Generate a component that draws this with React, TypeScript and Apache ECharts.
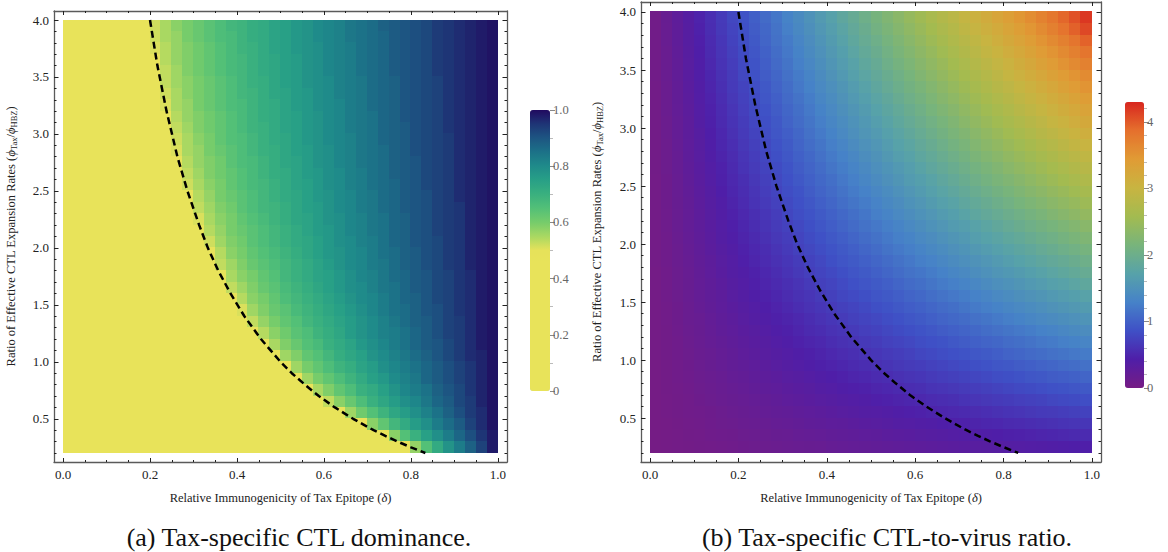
import React, { useEffect, useRef } from "react";
import * as echarts from "echarts";

const FONT = "Liberation Serif, Times New Roman, serif";

// Sampled grid: δ column centres (left→right) and ratio row centres (top→bottom)
const deltaCenters = [
  0.0125, 0.0375, 0.0625, 0.0875, 0.1125, 0.1375, 0.1625, 0.1875, 0.2125, 0.2375,
  0.2625, 0.2875, 0.3125, 0.3375, 0.3625, 0.3875, 0.4125, 0.4375, 0.4625, 0.4875,
  0.5125, 0.5375, 0.5625, 0.5875, 0.6125, 0.6375, 0.6625, 0.6875, 0.7125, 0.7375,
  0.7625, 0.7875, 0.8125, 0.8375, 0.8625, 0.8875, 0.9125, 0.9375, 0.9625, 0.9875,
];
const ratioCenters = [
  3.95, 3.85, 3.75, 3.65, 3.55, 3.45, 3.35, 3.25, 3.15, 3.05, 2.95, 2.85, 2.75, 2.65, 2.55, 2.45, 2.35, 2.25, 2.15,
  2.05, 1.95, 1.85, 1.75, 1.65, 1.55, 1.45, 1.35, 1.25, 1.15, 1.05, 0.95, 0.85, 0.75, 0.65, 0.55, 0.45, 0.35, 0.25,
];

// (a) Tax-specific CTL dominance, one row per ratio centre
const dominanceRows = [
  [0, 0, 0, 0, 0, 0, 0, 0, 0.52, 0.55, 0.58, 0.60, 0.62, 0.64, 0.66, 0.68, 0.69, 0.71, 0.72, 0.74, 0.75, 0.77, 0.78, 0.80, 0.81, 0.82, 0.84, 0.85, 0.86, 0.88, 0.89, 0.90, 0.91, 0.92, 0.94, 0.95, 0.96, 0.97, 0.98, 0.99],
  [0, 0, 0, 0, 0, 0, 0, 0, 0.52, 0.55, 0.57, 0.60, 0.62, 0.64, 0.66, 0.67, 0.69, 0.71, 0.72, 0.74, 0.75, 0.77, 0.78, 0.80, 0.81, 0.82, 0.84, 0.85, 0.86, 0.87, 0.89, 0.90, 0.91, 0.92, 0.94, 0.95, 0.96, 0.97, 0.98, 0.99],
  [0, 0, 0, 0, 0, 0, 0, 0, 0.51, 0.54, 0.57, 0.59, 0.61, 0.63, 0.65, 0.67, 0.69, 0.70, 0.72, 0.74, 0.75, 0.77, 0.78, 0.79, 0.81, 0.82, 0.83, 0.85, 0.86, 0.87, 0.89, 0.90, 0.91, 0.92, 0.94, 0.95, 0.96, 0.97, 0.98, 0.99],
  [0, 0, 0, 0, 0, 0, 0, 0, 0, 0.54, 0.57, 0.59, 0.61, 0.63, 0.65, 0.67, 0.68, 0.70, 0.72, 0.73, 0.75, 0.76, 0.78, 0.79, 0.81, 0.82, 0.83, 0.85, 0.86, 0.87, 0.89, 0.90, 0.91, 0.92, 0.94, 0.95, 0.96, 0.97, 0.98, 0.99],
  [0, 0, 0, 0, 0, 0, 0, 0, 0, 0.53, 0.56, 0.59, 0.61, 0.63, 0.65, 0.67, 0.68, 0.70, 0.72, 0.73, 0.75, 0.76, 0.78, 0.79, 0.81, 0.82, 0.83, 0.85, 0.86, 0.87, 0.89, 0.90, 0.91, 0.92, 0.94, 0.95, 0.96, 0.97, 0.98, 0.99],
  [0, 0, 0, 0, 0, 0, 0, 0, 0, 0.53, 0.56, 0.58, 0.60, 0.62, 0.64, 0.66, 0.68, 0.70, 0.71, 0.73, 0.75, 0.76, 0.78, 0.79, 0.80, 0.82, 0.83, 0.84, 0.86, 0.87, 0.88, 0.90, 0.91, 0.92, 0.93, 0.95, 0.96, 0.97, 0.98, 0.99],
  [0, 0, 0, 0, 0, 0, 0, 0, 0, 0.52, 0.55, 0.58, 0.60, 0.62, 0.64, 0.66, 0.68, 0.69, 0.71, 0.73, 0.74, 0.76, 0.77, 0.79, 0.80, 0.82, 0.83, 0.84, 0.86, 0.87, 0.88, 0.90, 0.91, 0.92, 0.93, 0.95, 0.96, 0.97, 0.98, 0.99],
  [0, 0, 0, 0, 0, 0, 0, 0, 0, 0.51, 0.55, 0.57, 0.60, 0.62, 0.64, 0.66, 0.67, 0.69, 0.71, 0.72, 0.74, 0.76, 0.77, 0.79, 0.80, 0.81, 0.83, 0.84, 0.86, 0.87, 0.88, 0.90, 0.91, 0.92, 0.93, 0.95, 0.96, 0.97, 0.98, 0.99],
  [0, 0, 0, 0, 0, 0, 0, 0, 0, 0, 0.54, 0.57, 0.59, 0.61, 0.63, 0.65, 0.67, 0.69, 0.71, 0.72, 0.74, 0.75, 0.77, 0.78, 0.80, 0.81, 0.83, 0.84, 0.85, 0.87, 0.88, 0.90, 0.91, 0.92, 0.93, 0.95, 0.96, 0.97, 0.98, 0.99],
  [0, 0, 0, 0, 0, 0, 0, 0, 0, 0, 0.53, 0.56, 0.59, 0.61, 0.63, 0.65, 0.67, 0.69, 0.70, 0.72, 0.74, 0.75, 0.77, 0.78, 0.80, 0.81, 0.83, 0.84, 0.85, 0.87, 0.88, 0.89, 0.91, 0.92, 0.93, 0.95, 0.96, 0.97, 0.98, 0.99],
  [0, 0, 0, 0, 0, 0, 0, 0, 0, 0, 0.52, 0.55, 0.58, 0.60, 0.63, 0.65, 0.66, 0.68, 0.70, 0.72, 0.73, 0.75, 0.77, 0.78, 0.80, 0.81, 0.82, 0.84, 0.85, 0.87, 0.88, 0.89, 0.91, 0.92, 0.93, 0.94, 0.96, 0.97, 0.98, 0.99],
  [0, 0, 0, 0, 0, 0, 0, 0, 0, 0, 0.51, 0.55, 0.57, 0.60, 0.62, 0.64, 0.66, 0.68, 0.70, 0.71, 0.73, 0.75, 0.76, 0.78, 0.79, 0.81, 0.82, 0.84, 0.85, 0.86, 0.88, 0.89, 0.91, 0.92, 0.93, 0.94, 0.96, 0.97, 0.98, 0.99],
  [0, 0, 0, 0, 0, 0, 0, 0, 0, 0, 0, 0.54, 0.57, 0.59, 0.61, 0.64, 0.66, 0.67, 0.69, 0.71, 0.73, 0.74, 0.76, 0.78, 0.79, 0.81, 0.82, 0.84, 0.85, 0.86, 0.88, 0.89, 0.90, 0.92, 0.93, 0.94, 0.96, 0.97, 0.98, 0.99],
  [0, 0, 0, 0, 0, 0, 0, 0, 0, 0, 0, 0.53, 0.56, 0.59, 0.61, 0.63, 0.65, 0.67, 0.69, 0.71, 0.72, 0.74, 0.76, 0.77, 0.79, 0.80, 0.82, 0.83, 0.85, 0.86, 0.88, 0.89, 0.90, 0.92, 0.93, 0.94, 0.96, 0.97, 0.98, 0.99],
  [0, 0, 0, 0, 0, 0, 0, 0, 0, 0, 0, 0.52, 0.55, 0.58, 0.60, 0.63, 0.65, 0.67, 0.68, 0.70, 0.72, 0.74, 0.75, 0.77, 0.79, 0.80, 0.82, 0.83, 0.85, 0.86, 0.87, 0.89, 0.90, 0.92, 0.93, 0.94, 0.96, 0.97, 0.98, 0.99],
  [0, 0, 0, 0, 0, 0, 0, 0, 0, 0, 0, 0, 0.54, 0.57, 0.60, 0.62, 0.64, 0.66, 0.68, 0.70, 0.72, 0.73, 0.75, 0.77, 0.78, 0.80, 0.81, 0.83, 0.84, 0.86, 0.87, 0.89, 0.90, 0.91, 0.93, 0.94, 0.96, 0.97, 0.98, 0.99],
  [0, 0, 0, 0, 0, 0, 0, 0, 0, 0, 0, 0, 0.53, 0.56, 0.59, 0.61, 0.64, 0.66, 0.68, 0.69, 0.71, 0.73, 0.75, 0.76, 0.78, 0.80, 0.81, 0.83, 0.84, 0.86, 0.87, 0.89, 0.90, 0.91, 0.93, 0.94, 0.95, 0.97, 0.98, 0.99],
  [0, 0, 0, 0, 0, 0, 0, 0, 0, 0, 0, 0, 0.51, 0.55, 0.58, 0.60, 0.63, 0.65, 0.67, 0.69, 0.71, 0.73, 0.74, 0.76, 0.78, 0.79, 0.81, 0.82, 0.84, 0.85, 0.87, 0.88, 0.90, 0.91, 0.93, 0.94, 0.95, 0.97, 0.98, 0.99],
  [0, 0, 0, 0, 0, 0, 0, 0, 0, 0, 0, 0, 0, 0.54, 0.57, 0.60, 0.62, 0.64, 0.66, 0.68, 0.70, 0.72, 0.74, 0.76, 0.77, 0.79, 0.81, 0.82, 0.84, 0.85, 0.87, 0.88, 0.90, 0.91, 0.93, 0.94, 0.95, 0.97, 0.98, 0.99],
  [0, 0, 0, 0, 0, 0, 0, 0, 0, 0, 0, 0, 0, 0.52, 0.56, 0.59, 0.61, 0.64, 0.66, 0.68, 0.70, 0.72, 0.73, 0.75, 0.77, 0.79, 0.80, 0.82, 0.83, 0.85, 0.87, 0.88, 0.90, 0.91, 0.92, 0.94, 0.95, 0.97, 0.98, 0.99],
  [0, 0, 0, 0, 0, 0, 0, 0, 0, 0, 0, 0, 0, 0, 0.54, 0.58, 0.60, 0.63, 0.65, 0.67, 0.69, 0.71, 0.73, 0.75, 0.77, 0.78, 0.80, 0.81, 0.83, 0.85, 0.86, 0.88, 0.89, 0.91, 0.92, 0.94, 0.95, 0.97, 0.98, 0.99],
  [0, 0, 0, 0, 0, 0, 0, 0, 0, 0, 0, 0, 0, 0, 0.53, 0.56, 0.59, 0.62, 0.64, 0.66, 0.68, 0.70, 0.72, 0.74, 0.76, 0.78, 0.80, 0.81, 0.83, 0.84, 0.86, 0.88, 0.89, 0.91, 0.92, 0.94, 0.95, 0.97, 0.98, 0.99],
  [0, 0, 0, 0, 0, 0, 0, 0, 0, 0, 0, 0, 0, 0, 0, 0.55, 0.58, 0.60, 0.63, 0.65, 0.68, 0.70, 0.72, 0.74, 0.75, 0.77, 0.79, 0.81, 0.82, 0.84, 0.86, 0.87, 0.89, 0.90, 0.92, 0.93, 0.95, 0.96, 0.98, 0.99],
  [0, 0, 0, 0, 0, 0, 0, 0, 0, 0, 0, 0, 0, 0, 0, 0.53, 0.56, 0.59, 0.62, 0.64, 0.67, 0.69, 0.71, 0.73, 0.75, 0.77, 0.79, 0.80, 0.82, 0.84, 0.85, 0.87, 0.89, 0.90, 0.92, 0.93, 0.95, 0.96, 0.98, 0.99],
  [0, 0, 0, 0, 0, 0, 0, 0, 0, 0, 0, 0, 0, 0, 0, 0, 0.54, 0.58, 0.60, 0.63, 0.66, 0.68, 0.70, 0.72, 0.74, 0.76, 0.78, 0.80, 0.81, 0.83, 0.85, 0.87, 0.88, 0.90, 0.92, 0.93, 0.95, 0.96, 0.98, 0.99],
  [0, 0, 0, 0, 0, 0, 0, 0, 0, 0, 0, 0, 0, 0, 0, 0, 0.51, 0.56, 0.59, 0.62, 0.64, 0.67, 0.69, 0.71, 0.73, 0.75, 0.77, 0.79, 0.81, 0.83, 0.85, 0.86, 0.88, 0.90, 0.91, 0.93, 0.95, 0.96, 0.98, 0.99],
  [0, 0, 0, 0, 0, 0, 0, 0, 0, 0, 0, 0, 0, 0, 0, 0, 0, 0.53, 0.57, 0.60, 0.63, 0.65, 0.68, 0.70, 0.72, 0.74, 0.76, 0.78, 0.80, 0.82, 0.84, 0.86, 0.88, 0.89, 0.91, 0.93, 0.94, 0.96, 0.98, 0.99],
  [0, 0, 0, 0, 0, 0, 0, 0, 0, 0, 0, 0, 0, 0, 0, 0, 0, 0, 0.54, 0.58, 0.61, 0.64, 0.66, 0.69, 0.71, 0.73, 0.76, 0.78, 0.80, 0.82, 0.83, 0.85, 0.87, 0.89, 0.91, 0.93, 0.94, 0.96, 0.98, 0.99],
  [0, 0, 0, 0, 0, 0, 0, 0, 0, 0, 0, 0, 0, 0, 0, 0, 0, 0, 0, 0.55, 0.59, 0.62, 0.65, 0.67, 0.70, 0.72, 0.74, 0.77, 0.79, 0.81, 0.83, 0.85, 0.87, 0.89, 0.90, 0.92, 0.94, 0.96, 0.98, 0.99],
  [0, 0, 0, 0, 0, 0, 0, 0, 0, 0, 0, 0, 0, 0, 0, 0, 0, 0, 0, 0, 0.56, 0.59, 0.63, 0.65, 0.68, 0.71, 0.73, 0.75, 0.78, 0.80, 0.82, 0.84, 0.86, 0.88, 0.90, 0.92, 0.94, 0.96, 0.97, 0.99],
  [0, 0, 0, 0, 0, 0, 0, 0, 0, 0, 0, 0, 0, 0, 0, 0, 0, 0, 0, 0, 0, 0.56, 0.60, 0.63, 0.66, 0.69, 0.71, 0.74, 0.76, 0.79, 0.81, 0.83, 0.85, 0.87, 0.89, 0.91, 0.93, 0.95, 0.97, 0.99],
  [0, 0, 0, 0, 0, 0, 0, 0, 0, 0, 0, 0, 0, 0, 0, 0, 0, 0, 0, 0, 0, 0, 0.56, 0.60, 0.63, 0.66, 0.69, 0.72, 0.75, 0.77, 0.80, 0.82, 0.84, 0.87, 0.89, 0.91, 0.93, 0.95, 0.97, 0.99],
  [0, 0, 0, 0, 0, 0, 0, 0, 0, 0, 0, 0, 0, 0, 0, 0, 0, 0, 0, 0, 0, 0, 0, 0.55, 0.59, 0.63, 0.66, 0.70, 0.72, 0.75, 0.78, 0.81, 0.83, 0.85, 0.88, 0.90, 0.92, 0.95, 0.97, 0.99],
  [0, 0, 0, 0, 0, 0, 0, 0, 0, 0, 0, 0, 0, 0, 0, 0, 0, 0, 0, 0, 0, 0, 0, 0, 0.53, 0.58, 0.62, 0.66, 0.70, 0.73, 0.76, 0.79, 0.81, 0.84, 0.87, 0.89, 0.92, 0.94, 0.97, 0.99],
  [0, 0, 0, 0, 0, 0, 0, 0, 0, 0, 0, 0, 0, 0, 0, 0, 0, 0, 0, 0, 0, 0, 0, 0, 0, 0, 0.56, 0.61, 0.65, 0.69, 0.73, 0.76, 0.79, 0.82, 0.85, 0.88, 0.91, 0.94, 0.96, 0.99],
  [0, 0, 0, 0, 0, 0, 0, 0, 0, 0, 0, 0, 0, 0, 0, 0, 0, 0, 0, 0, 0, 0, 0, 0, 0, 0, 0, 0, 0.58, 0.63, 0.68, 0.72, 0.76, 0.79, 0.83, 0.86, 0.89, 0.93, 0.96, 0.99],
  [0, 0, 0, 0, 0, 0, 0, 0, 0, 0, 0, 0, 0, 0, 0, 0, 0, 0, 0, 0, 0, 0, 0, 0, 0, 0, 0, 0, 0, 0, 0.58, 0.65, 0.70, 0.75, 0.79, 0.83, 0.87, 0.91, 0.95, 0.98],
  [0, 0, 0, 0, 0, 0, 0, 0, 0, 0, 0, 0, 0, 0, 0, 0, 0, 0, 0, 0, 0, 0, 0, 0, 0, 0, 0, 0, 0, 0, 0, 0, 0.57, 0.65, 0.72, 0.78, 0.83, 0.88, 0.93, 0.98],
];

// (b) Tax-specific CTL-to-virus ratio, one row per ratio centre
const ctlVirusRows = [
  [0.05, 0.16, 0.26, 0.36, 0.47, 0.57, 0.67, 0.78, 0.88, 0.99, 1.09, 1.19, 1.30, 1.40, 1.50, 1.61, 1.71, 1.82, 1.92, 2.02, 2.13, 2.23, 2.33, 2.44, 2.54, 2.65, 2.75, 2.85, 2.96, 3.06, 3.16, 3.27, 3.37, 3.48, 3.58, 3.69, 3.80, 3.92, 4.05, 4.20],
  [0.05, 0.15, 0.25, 0.35, 0.46, 0.56, 0.66, 0.76, 0.86, 0.96, 1.06, 1.16, 1.27, 1.37, 1.47, 1.57, 1.67, 1.77, 1.87, 1.97, 2.08, 2.18, 2.28, 2.38, 2.48, 2.58, 2.68, 2.78, 2.89, 2.99, 3.09, 3.19, 3.29, 3.39, 3.49, 3.60, 3.71, 3.83, 3.96, 4.10],
  [0.05, 0.15, 0.25, 0.35, 0.44, 0.54, 0.64, 0.74, 0.84, 0.94, 1.04, 1.14, 1.23, 1.33, 1.43, 1.53, 1.63, 1.73, 1.83, 1.93, 2.02, 2.12, 2.22, 2.32, 2.42, 2.52, 2.62, 2.72, 2.81, 2.91, 3.01, 3.11, 3.21, 3.31, 3.41, 3.51, 3.61, 3.71, 3.82, 3.95],
  [0.05, 0.14, 0.24, 0.34, 0.43, 0.53, 0.63, 0.72, 0.82, 0.91, 1.01, 1.11, 1.20, 1.30, 1.40, 1.49, 1.59, 1.68, 1.78, 1.88, 1.97, 2.07, 2.17, 2.26, 2.36, 2.45, 2.55, 2.65, 2.74, 2.84, 2.94, 3.03, 3.13, 3.22, 3.32, 3.42, 3.51, 3.61, 3.71, 3.82],
  [0.05, 0.14, 0.23, 0.33, 0.42, 0.52, 0.61, 0.70, 0.80, 0.89, 0.98, 1.08, 1.17, 1.27, 1.36, 1.45, 1.55, 1.64, 1.73, 1.83, 1.92, 2.02, 2.11, 2.20, 2.30, 2.39, 2.48, 2.58, 2.67, 2.77, 2.86, 2.95, 3.05, 3.14, 3.23, 3.33, 3.42, 3.52, 3.61, 3.70],
  [0.05, 0.14, 0.23, 0.32, 0.41, 0.50, 0.59, 0.68, 0.78, 0.87, 0.96, 1.05, 1.14, 1.23, 1.32, 1.41, 1.51, 1.60, 1.69, 1.78, 1.87, 1.96, 2.05, 2.14, 2.24, 2.33, 2.42, 2.51, 2.60, 2.69, 2.78, 2.87, 2.97, 3.06, 3.15, 3.24, 3.33, 3.42, 3.51, 3.60],
  [0.04, 0.13, 0.22, 0.31, 0.40, 0.49, 0.58, 0.67, 0.75, 0.84, 0.93, 1.02, 1.11, 1.20, 1.29, 1.38, 1.46, 1.55, 1.64, 1.73, 1.82, 1.91, 2.00, 2.09, 2.17, 2.26, 2.35, 2.44, 2.53, 2.62, 2.71, 2.80, 2.88, 2.97, 3.06, 3.15, 3.24, 3.33, 3.42, 3.51],
  [0.04, 0.13, 0.22, 0.30, 0.39, 0.47, 0.56, 0.65, 0.73, 0.82, 0.91, 0.99, 1.08, 1.16, 1.25, 1.34, 1.42, 1.51, 1.60, 1.68, 1.77, 1.85, 1.94, 2.03, 2.11, 2.20, 2.29, 2.37, 2.46, 2.54, 2.63, 2.72, 2.80, 2.89, 2.98, 3.06, 3.15, 3.23, 3.32, 3.41],
  [0.04, 0.13, 0.21, 0.29, 0.38, 0.46, 0.54, 0.63, 0.71, 0.80, 0.88, 0.96, 1.05, 1.13, 1.21, 1.30, 1.38, 1.47, 1.55, 1.63, 1.72, 1.80, 1.88, 1.97, 2.05, 2.14, 2.22, 2.30, 2.39, 2.47, 2.55, 2.64, 2.72, 2.81, 2.89, 2.97, 3.06, 3.14, 3.22, 3.31],
  [0.04, 0.12, 0.20, 0.28, 0.37, 0.45, 0.53, 0.61, 0.69, 0.77, 0.85, 0.93, 1.02, 1.10, 1.18, 1.26, 1.34, 1.42, 1.50, 1.58, 1.67, 1.75, 1.83, 1.91, 1.99, 2.07, 2.15, 2.23, 2.32, 2.40, 2.48, 2.56, 2.64, 2.72, 2.80, 2.88, 2.97, 3.05, 3.13, 3.21],
  [0.04, 0.12, 0.20, 0.28, 0.35, 0.43, 0.51, 0.59, 0.67, 0.75, 0.83, 0.91, 0.98, 1.06, 1.14, 1.22, 1.30, 1.38, 1.46, 1.54, 1.61, 1.69, 1.77, 1.85, 1.93, 2.01, 2.09, 2.17, 2.24, 2.32, 2.40, 2.48, 2.56, 2.64, 2.72, 2.80, 2.87, 2.95, 3.03, 3.11],
  [0.04, 0.11, 0.19, 0.27, 0.34, 0.42, 0.50, 0.57, 0.65, 0.72, 0.80, 0.88, 0.95, 1.03, 1.11, 1.18, 1.26, 1.33, 1.41, 1.49, 1.56, 1.64, 1.72, 1.79, 1.87, 1.94, 2.02, 2.10, 2.17, 2.25, 2.33, 2.40, 2.48, 2.55, 2.63, 2.71, 2.78, 2.86, 2.94, 3.01],
  [0.04, 0.11, 0.18, 0.26, 0.33, 0.41, 0.48, 0.55, 0.63, 0.70, 0.77, 0.85, 0.92, 1.00, 1.07, 1.14, 1.22, 1.29, 1.36, 1.44, 1.51, 1.59, 1.66, 1.73, 1.81, 1.88, 1.95, 2.03, 2.10, 2.18, 2.25, 2.32, 2.40, 2.47, 2.54, 2.62, 2.69, 2.77, 2.84, 2.91],
  [0.04, 0.11, 0.18, 0.25, 0.32, 0.39, 0.46, 0.53, 0.61, 0.68, 0.75, 0.82, 0.89, 0.96, 1.03, 1.10, 1.18, 1.25, 1.32, 1.39, 1.46, 1.53, 1.60, 1.67, 1.75, 1.82, 1.89, 1.96, 2.03, 2.10, 2.17, 2.24, 2.32, 2.39, 2.46, 2.53, 2.60, 2.67, 2.74, 2.81],
  [0.03, 0.10, 0.17, 0.24, 0.31, 0.38, 0.45, 0.52, 0.58, 0.65, 0.72, 0.79, 0.86, 0.93, 1.00, 1.07, 1.13, 1.20, 1.27, 1.34, 1.41, 1.48, 1.55, 1.62, 1.68, 1.75, 1.82, 1.89, 1.96, 2.03, 2.10, 2.17, 2.23, 2.30, 2.37, 2.44, 2.51, 2.58, 2.65, 2.72],
  [0.03, 0.10, 0.17, 0.23, 0.30, 0.36, 0.43, 0.50, 0.56, 0.63, 0.70, 0.76, 0.83, 0.89, 0.96, 1.03, 1.09, 1.16, 1.23, 1.29, 1.36, 1.42, 1.49, 1.56, 1.62, 1.69, 1.76, 1.82, 1.89, 1.95, 2.02, 2.09, 2.15, 2.22, 2.29, 2.35, 2.42, 2.48, 2.55, 2.62],
  [0.03, 0.10, 0.16, 0.22, 0.29, 0.35, 0.41, 0.48, 0.54, 0.61, 0.67, 0.73, 0.80, 0.86, 0.92, 0.99, 1.05, 1.12, 1.18, 1.24, 1.31, 1.37, 1.43, 1.50, 1.56, 1.63, 1.69, 1.75, 1.82, 1.88, 1.94, 2.01, 2.07, 2.14, 2.20, 2.26, 2.33, 2.39, 2.45, 2.52],
  [0.03, 0.09, 0.15, 0.21, 0.28, 0.34, 0.40, 0.46, 0.52, 0.58, 0.64, 0.70, 0.77, 0.83, 0.89, 0.95, 1.01, 1.07, 1.13, 1.19, 1.26, 1.32, 1.38, 1.44, 1.50, 1.56, 1.62, 1.68, 1.75, 1.81, 1.87, 1.93, 1.99, 2.05, 2.11, 2.17, 2.24, 2.30, 2.36, 2.42],
  [0.03, 0.09, 0.15, 0.21, 0.26, 0.32, 0.38, 0.44, 0.50, 0.56, 0.62, 0.68, 0.73, 0.79, 0.85, 0.91, 0.97, 1.03, 1.09, 1.15, 1.20, 1.26, 1.32, 1.38, 1.44, 1.50, 1.56, 1.62, 1.67, 1.73, 1.79, 1.85, 1.91, 1.97, 2.03, 2.09, 2.14, 2.20, 2.26, 2.32],
  [0.03, 0.08, 0.14, 0.20, 0.25, 0.31, 0.37, 0.42, 0.48, 0.53, 0.59, 0.65, 0.70, 0.76, 0.82, 0.87, 0.93, 0.98, 1.04, 1.10, 1.15, 1.21, 1.27, 1.32, 1.38, 1.43, 1.49, 1.55, 1.60, 1.66, 1.72, 1.77, 1.83, 1.88, 1.94, 2.00, 2.05, 2.11, 2.17, 2.22],
  [0.03, 0.08, 0.13, 0.19, 0.24, 0.30, 0.35, 0.40, 0.46, 0.51, 0.56, 0.62, 0.67, 0.73, 0.78, 0.83, 0.89, 0.94, 0.99, 1.05, 1.10, 1.16, 1.21, 1.26, 1.32, 1.37, 1.42, 1.48, 1.53, 1.59, 1.64, 1.69, 1.75, 1.80, 1.85, 1.91, 1.96, 2.02, 2.07, 2.12],
  [0.03, 0.08, 0.13, 0.18, 0.23, 0.28, 0.33, 0.38, 0.44, 0.49, 0.54, 0.59, 0.64, 0.69, 0.74, 0.79, 0.85, 0.90, 0.95, 1.00, 1.05, 1.10, 1.15, 1.20, 1.26, 1.31, 1.36, 1.41, 1.46, 1.51, 1.56, 1.61, 1.67, 1.72, 1.77, 1.82, 1.87, 1.92, 1.97, 2.02],
  [0.02, 0.07, 0.12, 0.17, 0.22, 0.27, 0.32, 0.37, 0.41, 0.46, 0.51, 0.56, 0.61, 0.66, 0.71, 0.76, 0.80, 0.85, 0.90, 0.95, 1.00, 1.05, 1.10, 1.15, 1.19, 1.24, 1.29, 1.34, 1.39, 1.44, 1.49, 1.54, 1.58, 1.63, 1.68, 1.73, 1.78, 1.83, 1.88, 1.93],
  [0.02, 0.07, 0.12, 0.16, 0.21, 0.25, 0.30, 0.35, 0.39, 0.44, 0.49, 0.53, 0.58, 0.62, 0.67, 0.72, 0.76, 0.81, 0.86, 0.90, 0.95, 0.99, 1.04, 1.09, 1.13, 1.18, 1.23, 1.27, 1.32, 1.36, 1.41, 1.46, 1.50, 1.55, 1.60, 1.64, 1.69, 1.73, 1.78, 1.83],
  [0.02, 0.07, 0.11, 0.15, 0.20, 0.24, 0.28, 0.33, 0.37, 0.42, 0.46, 0.50, 0.55, 0.59, 0.63, 0.68, 0.72, 0.77, 0.81, 0.85, 0.90, 0.94, 0.98, 1.03, 1.07, 1.12, 1.16, 1.20, 1.25, 1.29, 1.33, 1.38, 1.42, 1.47, 1.51, 1.55, 1.60, 1.64, 1.68, 1.73],
  [0.02, 0.06, 0.10, 0.14, 0.19, 0.23, 0.27, 0.31, 0.35, 0.39, 0.43, 0.47, 0.52, 0.56, 0.60, 0.64, 0.68, 0.72, 0.76, 0.80, 0.85, 0.89, 0.93, 0.97, 1.01, 1.05, 1.09, 1.13, 1.18, 1.22, 1.26, 1.30, 1.34, 1.38, 1.42, 1.46, 1.51, 1.55, 1.59, 1.63],
  [0.02, 0.06, 0.10, 0.14, 0.17, 0.21, 0.25, 0.29, 0.33, 0.37, 0.41, 0.45, 0.48, 0.52, 0.56, 0.60, 0.64, 0.68, 0.72, 0.76, 0.79, 0.83, 0.87, 0.91, 0.95, 0.99, 1.03, 1.07, 1.10, 1.14, 1.18, 1.22, 1.26, 1.30, 1.34, 1.38, 1.41, 1.45, 1.49, 1.53],
  [0.02, 0.05, 0.09, 0.13, 0.16, 0.20, 0.24, 0.27, 0.31, 0.34, 0.38, 0.42, 0.45, 0.49, 0.53, 0.56, 0.60, 0.63, 0.67, 0.71, 0.74, 0.78, 0.82, 0.85, 0.89, 0.92, 0.96, 1.00, 1.03, 1.07, 1.11, 1.14, 1.18, 1.21, 1.25, 1.29, 1.32, 1.36, 1.40, 1.43],
  [0.02, 0.05, 0.08, 0.12, 0.15, 0.19, 0.22, 0.25, 0.29, 0.32, 0.35, 0.39, 0.42, 0.46, 0.49, 0.52, 0.56, 0.59, 0.62, 0.66, 0.69, 0.73, 0.76, 0.79, 0.83, 0.86, 0.89, 0.93, 0.96, 1.00, 1.03, 1.06, 1.10, 1.13, 1.16, 1.20, 1.23, 1.27, 1.30, 1.33],
  [0.02, 0.05, 0.08, 0.11, 0.14, 0.17, 0.20, 0.23, 0.27, 0.30, 0.33, 0.36, 0.39, 0.42, 0.45, 0.48, 0.52, 0.55, 0.58, 0.61, 0.64, 0.67, 0.70, 0.73, 0.77, 0.80, 0.83, 0.86, 0.89, 0.92, 0.95, 0.98, 1.02, 1.05, 1.08, 1.11, 1.14, 1.17, 1.20, 1.23],
  [0.01, 0.04, 0.07, 0.10, 0.13, 0.16, 0.19, 0.22, 0.24, 0.27, 0.30, 0.33, 0.36, 0.39, 0.42, 0.45, 0.47, 0.50, 0.53, 0.56, 0.59, 0.62, 0.65, 0.68, 0.70, 0.73, 0.76, 0.79, 0.82, 0.85, 0.88, 0.91, 0.93, 0.96, 0.99, 1.02, 1.05, 1.08, 1.11, 1.14],
  [0.01, 0.04, 0.07, 0.09, 0.12, 0.14, 0.17, 0.20, 0.22, 0.25, 0.28, 0.30, 0.33, 0.35, 0.38, 0.41, 0.43, 0.46, 0.49, 0.51, 0.54, 0.56, 0.59, 0.62, 0.64, 0.67, 0.70, 0.72, 0.75, 0.77, 0.80, 0.83, 0.85, 0.88, 0.91, 0.93, 0.96, 0.98, 1.01, 1.04],
  [0.01, 0.04, 0.06, 0.08, 0.11, 0.13, 0.15, 0.18, 0.20, 0.23, 0.25, 0.27, 0.30, 0.32, 0.34, 0.37, 0.39, 0.42, 0.44, 0.46, 0.49, 0.51, 0.53, 0.56, 0.58, 0.61, 0.63, 0.65, 0.68, 0.70, 0.72, 0.75, 0.77, 0.80, 0.82, 0.84, 0.87, 0.89, 0.91, 0.94],
  [0.01, 0.03, 0.05, 0.07, 0.10, 0.12, 0.14, 0.16, 0.18, 0.20, 0.22, 0.24, 0.27, 0.29, 0.31, 0.33, 0.35, 0.37, 0.39, 0.41, 0.44, 0.46, 0.48, 0.50, 0.52, 0.54, 0.56, 0.58, 0.61, 0.63, 0.65, 0.67, 0.69, 0.71, 0.73, 0.75, 0.78, 0.80, 0.82, 0.84],
  [0.01, 0.03, 0.05, 0.07, 0.08, 0.10, 0.12, 0.14, 0.16, 0.18, 0.20, 0.22, 0.23, 0.25, 0.27, 0.29, 0.31, 0.33, 0.35, 0.37, 0.38, 0.40, 0.42, 0.44, 0.46, 0.48, 0.50, 0.52, 0.53, 0.55, 0.57, 0.59, 0.61, 0.63, 0.65, 0.67, 0.68, 0.70, 0.72, 0.74],
  [0.01, 0.02, 0.04, 0.06, 0.07, 0.09, 0.11, 0.12, 0.14, 0.15, 0.17, 0.19, 0.20, 0.22, 0.24, 0.25, 0.27, 0.28, 0.30, 0.32, 0.33, 0.35, 0.37, 0.38, 0.40, 0.41, 0.43, 0.45, 0.46, 0.48, 0.50, 0.51, 0.53, 0.54, 0.56, 0.58, 0.59, 0.61, 0.63, 0.64],
  [0.01, 0.02, 0.03, 0.05, 0.06, 0.08, 0.09, 0.10, 0.12, 0.13, 0.14, 0.16, 0.17, 0.19, 0.20, 0.21, 0.23, 0.24, 0.25, 0.27, 0.28, 0.30, 0.31, 0.32, 0.34, 0.35, 0.36, 0.38, 0.39, 0.41, 0.42, 0.43, 0.45, 0.46, 0.47, 0.49, 0.50, 0.52, 0.53, 0.54],
  [0.01, 0.02, 0.03, 0.04, 0.05, 0.06, 0.07, 0.08, 0.10, 0.11, 0.12, 0.13, 0.14, 0.15, 0.16, 0.17, 0.19, 0.20, 0.21, 0.22, 0.23, 0.24, 0.25, 0.26, 0.28, 0.29, 0.30, 0.31, 0.32, 0.33, 0.34, 0.35, 0.37, 0.38, 0.39, 0.40, 0.41, 0.42, 0.43, 0.44],
];

// Dashed threshold curve (δ, ratio) pairs
const boundaryRatio = [4.0, 3.6, 3.2, 2.8, 2.5, 2.2, 2.0, 1.8, 1.6, 1.4, 1.2, 1.0, 0.9, 0.8, 0.7, 0.6, 0.5, 0.4, 0.35, 0.3, 0.25, 0.2];
const boundaryDelta = [0.2, 0.217, 0.238, 0.263, 0.286, 0.313, 0.333, 0.357, 0.385, 0.417, 0.455, 0.5, 0.526, 0.556, 0.588, 0.625, 0.667, 0.714, 0.741, 0.769, 0.8, 0.833];

// Frame ticks
const deltaMajor = [0, 0.2, 0.4, 0.6, 0.8, 1.0];
const deltaMinor = [0.05, 0.1, 0.15, 0.25, 0.3, 0.35, 0.45, 0.5, 0.55, 0.65, 0.7, 0.75, 0.85, 0.9, 0.95];
const ratioMajor = [0.5, 1.0, 1.5, 2.0, 2.5, 3.0, 3.5, 4.0];
const ratioMinor = [0.2, 0.3, 0.4, 0.6, 0.7, 0.8, 0.9, 1.1, 1.2, 1.3, 1.4, 1.6, 1.7, 1.8, 1.9, 2.1, 2.2, 2.3, 2.4, 2.6, 2.7, 2.8, 2.9, 3.1, 3.2, 3.3, 3.4, 3.6, 3.7, 3.8, 3.9];

// Colour bar ticks
const dominanceBarMajor = [0, 0.2, 0.4, 0.6, 0.8, 1.0];
const dominanceBarMinor = [0.1, 0.3, 0.5, 0.7, 0.9];
const ctlVirusBarMajor = [0, 1, 2, 3, 4];
const ctlVirusBarMinor = [0.2, 0.4, 0.6, 0.8, 1.2, 1.4, 1.6, 1.8, 2.2, 2.4, 2.6, 2.8, 3.2, 3.4, 3.6, 3.8, 4.2];
const ctlVirusMax = 4.3;

// Colour scales
const dominanceColors = [
  "#E8E35A", "#E8E35A", "#E8E35A", "#E8E35A", "#E8E35A", "#E8E35A", "#E8E35A", "#E8E35A", "#E8E35A", "#E8E35A",
  "#E6E25A", "#A9D862", "#76CC6B", "#53C077", "#3AB07F", "#28A086", "#1F8B8A", "#1C7288", "#1D5582", "#1E3576", "#210A60",
];
const rainbowColors = ["#761C84", "#4F1EA8", "#3F50C6", "#4682C8", "#57A2A9", "#78B47B", "#A3BB50", "#C8B441", "#E09B35", "#E5702D", "#D8261F"];

const X_RANGE_A = [-0.0207, 1.0207];
const Y_RANGE_A = [0.121, 4.079];
const X_RANGE_B = [-0.0204, 1.0204];
const Y_RANGE_B = [0.122, 4.086];

const fmt1 = (v: number) => v.toFixed(1);

function cells(rows: number[][]) {
  const out: number[][] = [];
  rows.forEach((row, i) => row.forEach((v, j) => out.push([deltaCenters[j], ratioCenters[i], v])));
  return out;
}

const halfD = (deltaCenters[1] - deltaCenters[0]) / 2;
const halfR = (ratioCenters[0] - ratioCenters[1]) / 2;

function renderCell(_params: any, api: any) {
  const d = api.value(0);
  const r = api.value(1);
  const a = api.coord([d - halfD, r + halfR]);
  const b = api.coord([d + halfD, r - halfR]);
  const x0 = Math.floor(a[0]);
  const y0 = Math.floor(a[1]);
  return {
    type: "rect",
    shape: { x: x0, y: y0, width: Math.ceil(b[0]) - x0, height: Math.ceil(b[1]) - y0 },
    style: { fill: api.visual("color") },
  };
}

const yName = "{t|Ratio of Effective CTL Expansion Rates (}{i|ϕ}{s|Tax}{t|/}{i|ϕ}{s|HBZ}{t|)}";
const xName = "{t|Relative Immunogenicity of Tax Epitope (}{i|δ}{t|)}";
const nameRich = {
  t: { fontFamily: FONT, fontSize: 12.5, color: "#222" },
  i: { fontFamily: FONT, fontSize: 12.5, fontStyle: "italic", color: "#222" },
  s: { fontFamily: FONT, fontSize: 8.5, color: "#222", verticalAlign: "bottom", padding: [5, 0, 0, 0] },
};

function frameAxis(gridIndex: number, position: string, range: number[], ticks: number[], length: number, extra: any = {}) {
  return {
    type: "value",
    gridIndex,
    position,
    min: range[0],
    max: range[1],
    axisLine: { show: false, onZero: false },
    splitLine: { show: false },
    axisTick: { show: true, inside: true, length, customValues: ticks, lineStyle: { color: "#222", width: 1 } },
    axisLabel: { show: false },
    ...extra,
  };
}

const frameLine = { show: true, onZero: false, lineStyle: { color: "#5a5a5a", width: 1.3 } };
const tickLabel = (values: number[], margin: number) => ({
  show: true,
  customValues: values,
  formatter: fmt1,
  fontFamily: FONT,
  fontSize: 13,
  color: "#222",
  margin,
});

function panelAxes(grid: number, xr: number[], yr: number[], xGap: number, yGap: number) {
  const xAxes = [
    frameAxis(grid, "bottom", xr, deltaMajor, 4, {
      axisLine: frameLine,
      axisLabel: tickLabel(deltaMajor, 6),
      name: xName,
      nameLocation: "middle",
      nameGap: xGap,
      nameTextStyle: { rich: nameRich },
    }),
    frameAxis(grid, "bottom", xr, deltaMinor, 2),
    frameAxis(grid, "top", xr, deltaMajor, 4, { axisLine: frameLine }),
    frameAxis(grid, "top", xr, deltaMinor, 2),
  ];
  const yAxes = [
    frameAxis(grid, "left", yr, ratioMajor, 4.5, {
      axisLine: frameLine,
      axisLabel: tickLabel(ratioMajor, 5),
      name: yName,
      nameLocation: "middle",
      nameRotate: 90,
      nameGap: yGap,
      nameTextStyle: { rich: nameRich },
    }),
    frameAxis(grid, "left", yr, ratioMinor, 2.5),
    frameAxis(grid, "right", yr, ratioMajor, 4.5, { axisLine: frameLine }),
    frameAxis(grid, "right", yr, ratioMinor, 2.5),
  ];
  return { xAxes, yAxes };
}

function barAxes(grid: number, max: number, major: number[], minor: number[], fmt: (v: number) => string) {
  const base = {
    type: "value",
    gridIndex: grid,
    position: "right",
    min: 0,
    max,
    axisLine: { show: false, onZero: false },
    splitLine: { show: false },
  };
  return [
    {
      ...base,
      axisTick: { show: true, inside: false, length: 5, customValues: major, lineStyle: { color: "#888", width: 1 } },
      axisLabel: { show: true, customValues: major, formatter: fmt, fontFamily: FONT, fontSize: 12.5, color: "#666", margin: 3 },
    },
    {
      ...base,
      axisTick: { show: true, inside: false, length: 3, customValues: minor, lineStyle: { color: "#bbb", width: 1 } },
      axisLabel: { show: false },
    },
  ];
}

const captionStyle = (text: string) => ({
  text,
  fontFamily: FONT,
  fontSize: 26,
  fill: "#111",
  align: "center",
  verticalAlign: "middle",
  textAlign: "center",
  textVerticalAlign: "middle",
});

function buildOption() {
  const a = panelAxes(0, X_RANGE_A, Y_RANGE_A, 29, 36);
  const b = panelAxes(1, X_RANGE_B, Y_RANGE_B, 29, 37);
  const hiddenX = (grid: number) => ({ type: "value", gridIndex: grid, show: false, min: 0, max: 1 });
  const boundary = boundaryDelta.map((d, i) => [d, boundaryRatio[i]]);
  const dashed = { color: "#000", width: 2.5, type: [7, 4] };
  return {
    animation: false,
    backgroundColor: "#fff",
    grid: [
      { left: 54, top: 11, width: 453, height: 451 },
      { left: 641, top: 2, width: 460, height: 460 },
      { left: 530, top: 110, width: 20, height: 281 },
      { left: 1125, top: 102, width: 19, height: 286 },
    ],
    xAxis: [...a.xAxes, ...b.xAxes, hiddenX(2), hiddenX(3)],
    yAxis: [
      ...a.yAxes,
      ...b.yAxes,
      ...barAxes(2, 1, dominanceBarMajor, dominanceBarMinor, (v) => (v === 0 ? "0" : v.toFixed(1))),
      ...barAxes(3, ctlVirusMax, ctlVirusBarMajor, ctlVirusBarMinor, (v) => String(v)),
    ],
    visualMap: [
      {
        type: "continuous",
        seriesIndex: 0,
        dimension: 2,
        min: 0,
        max: 1,
        calculable: false,
        hoverLink: false,
        orient: "vertical",
        left: 530,
        top: 110,
        itemWidth: 20,
        itemHeight: 281,
        padding: 0,
        inRange: { color: dominanceColors },
      },
      {
        type: "continuous",
        seriesIndex: 1,
        dimension: 2,
        min: 0,
        max: ctlVirusMax,
        calculable: false,
        hoverLink: false,
        orient: "vertical",
        left: 1125,
        top: 102,
        itemWidth: 19,
        itemHeight: 286,
        padding: 0,
        inRange: { color: rainbowColors },
      },
    ],
    series: [
      {
        type: "custom",
        name: "dominance",
        xAxisIndex: 0,
        yAxisIndex: 0,
        renderItem: renderCell,
        encode: { x: 0, y: 1 },
        data: cells(dominanceRows),
        silent: true,
      },
      {
        type: "custom",
        name: "ctl-to-virus",
        xAxisIndex: 4,
        yAxisIndex: 4,
        renderItem: renderCell,
        encode: { x: 0, y: 1 },
        data: cells(ctlVirusRows),
        silent: true,
      },
      { type: "line", xAxisIndex: 0, yAxisIndex: 0, data: boundary, showSymbol: false, z: 5, lineStyle: dashed, silent: true },
      { type: "line", xAxisIndex: 4, yAxisIndex: 4, data: boundary, showSymbol: false, z: 5, lineStyle: dashed, silent: true },
    ],
    graphic: [
      { type: "text", x: 299, y: 537, style: captionStyle("(a) Tax-specific CTL dominance.") },
      { type: "text", x: 887, y: 537, style: captionStyle("(b) Tax-specific CTL-to-virus ratio.") },
    ],
  };
}

export default function App() {
  const ref = useRef<HTMLDivElement>(null);
  useEffect(() => {
    const chart = echarts.init(ref.current as HTMLDivElement, undefined, { renderer: "svg" });
    chart.setOption(buildOption() as any);
    return () => chart.dispose();
  }, []);
  return <div ref={ref} style={{ position: "fixed", left: 0, top: 0, width: 1168, height: 552, background: "#fff" }} />;
}
